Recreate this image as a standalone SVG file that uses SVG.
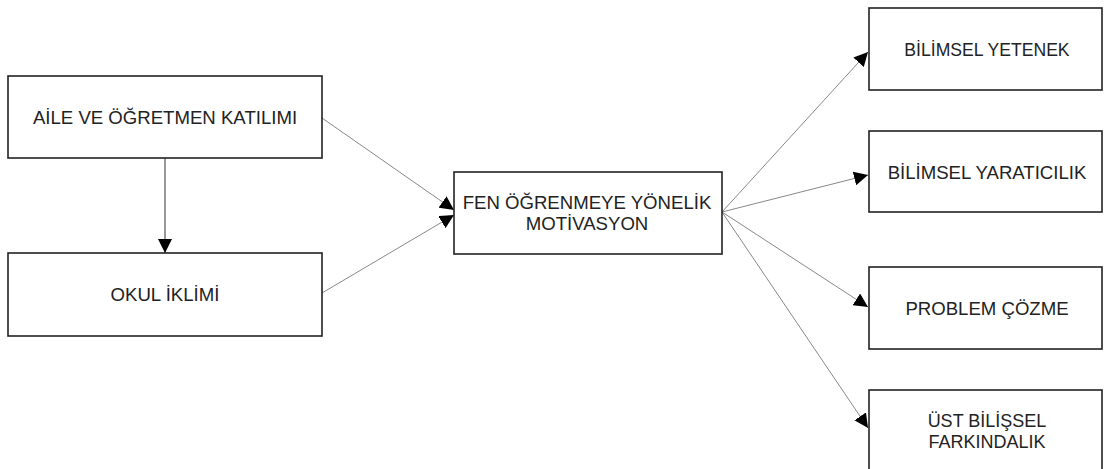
<svg xmlns="http://www.w3.org/2000/svg" width="1104" height="469" viewBox="0 0 1104 469">
  <style>
    .box { fill: #ffffff; stroke: #222222; stroke-width: 1.6; }
    .lbl { font-family: "Liberation Sans", Arial, sans-serif; font-size: 18.6px; fill: #222222; text-anchor: middle; dominant-baseline: central; }
    .lbl2 { font-size: 18px; }
    .edge { stroke: #888888; stroke-width: 1; fill: none; marker-end: url(#arrow); }
    .edge-dark { stroke: #333333; stroke-width: 1; fill: none; marker-end: url(#arrow); }
  </style>
  <defs>
    <marker id="arrow" viewBox="0 0 10 10" refX="10" refY="5" markerWidth="14" markerHeight="14" markerUnits="userSpaceOnUse" orient="auto">
      <path d="M0,0 L10,5 L0,10 Z" fill="#000000"/>
    </marker>
  </defs>
  <rect width="1104" height="469" fill="#ffffff"/>

  <g id="connectors">
    <line class="edge-dark" x1="165" y1="158" x2="165" y2="253"/>
    <line class="edge" x1="322" y1="118" x2="454" y2="210"/>
    <line class="edge" x1="322" y1="293" x2="454" y2="215"/>
    <line class="edge" x1="722" y1="212" x2="868" y2="52"/>
    <line class="edge" x1="722" y1="212" x2="868" y2="175"/>
    <line class="edge" x1="722" y1="212" x2="868" y2="307"/>
    <line class="edge" x1="722" y1="212" x2="868" y2="428"/>
  </g>

  <g id="aile">
    <rect class="box" x="8" y="76" width="314" height="82"/>
    <text class="lbl" x="165" y="117">AİLE VE ÖĞRETMEN KATILIMI</text>
  </g>
  <g id="okul">
    <rect class="box" x="8" y="253" width="314" height="83"/>
    <text class="lbl" x="165" y="294">OKUL İKLİMİ</text>
  </g>
  <g id="motivasyon">
    <rect class="box" x="454" y="172" width="268" height="82"/>
    <text class="lbl" x="587" y="202">FEN ÖĞRENMEYE YÖNELİK</text>
    <text class="lbl" x="587" y="223">MOTİVASYON</text>
  </g>
  <g id="yetenek">
    <rect class="box" x="869" y="8" width="233" height="82"/>
    <text class="lbl" x="987" y="50" style="font-size:17.6px">BİLİMSEL YETENEK</text>
  </g>
  <g id="yaraticilik">
    <rect class="box" x="869" y="131" width="233" height="81"/>
    <text class="lbl" x="987" y="172">BİLİMSEL YARATICILIK</text>
  </g>
  <g id="problem">
    <rect class="box" x="869" y="267" width="233" height="82"/>
    <text class="lbl" x="987" y="308">PROBLEM ÇÖZME</text>
  </g>
  <g id="ust">
    <rect class="box" x="869" y="390" width="233" height="90"/>
    <text class="lbl lbl2" x="987" y="421">ÜST BİLİŞSEL</text>
    <text class="lbl lbl2" x="987" y="442">FARKINDALIK</text>
  </g>
</svg>
